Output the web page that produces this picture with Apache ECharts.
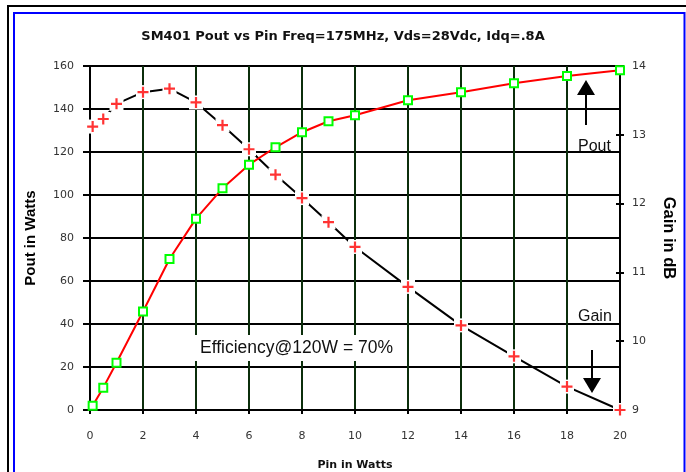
<!DOCTYPE html>
<html>
<head>
<meta charset="utf-8">
<script src="https://cdn.jsdelivr.net/npm/echarts@6/dist/echarts.min.js"></script>
<style>
html,body{margin:0;padding:0;background:#fff;}
#c{width:686px;height:472px;}
</style>
</head>
<body>
<div id="c"></div>
<script>
// ---- data ----
var pinWatts = [0.1, 0.5, 1, 2, 3, 4, 5, 6, 7, 8, 9, 10, 12, 14, 16, 18, 20];
var poutWatts = [2, 10.4, 22, 45.8, 70.2, 89, 103.1, 114.1, 122.2, 129.2, 134.3, 137.1, 144.1, 147.8, 152, 155.4, 158];
var gainDb = [13.12, 13.23, 13.45, 13.62, 13.67, 13.47, 13.14, 12.79, 12.42, 12.08, 11.73, 11.37, 10.79, 10.23, 9.78, 9.34, 9.0];
var titleText = 'SM401 Pout vs Pin Freq=175MHz, Vds=28Vdc, Idq=.8A';
var xName = 'Pin in Watts';
var yLeftName = 'Pout in Watts';
var yRightName = 'Gain in dB';
var noteEff = 'Efficiency@120W = 70%';
var notePout = 'Pout';
var noteGain = 'Gain';

function pairs(xs, ys) { return xs.map(function (x, i) { return [x, ys[i]]; }); }

var FONT = 'Arial, "Liberation Sans", sans-serif';
var WIDE = '"DejaVu Sans", Arial, sans-serif';
var plusPath = 'path://M4,0 H6 V4 H10 V6 H6 V10 H4 V6 H0 V4 H4 Z';
var gridBox = { left: 90, right: 66, top: 66, bottom: 62, outerBoundsMode: 'none' };

var chart = echarts.init(document.getElementById('c'), null, { renderer: 'canvas' });
chart.setOption({
  animation: false,
  backgroundColor: '#ffffff',
  title: {
    text: titleText,
    left: 'center',
    top: 25,
    textStyle: { fontFamily: WIDE, fontSize: 13, fontWeight: 'bold', color: '#111' }
  },
  grid: [
    Object.assign({}, gridBox),
    Object.assign({}, gridBox)
  ],
  xAxis: [
    {
      type: 'value', min: 0, max: 20, interval: 2, gridIndex: 0,
      name: xName, nameLocation: 'middle', nameGap: 50,
      nameTextStyle: { fontFamily: WIDE, fontSize: 11, fontWeight: 'bold', color: '#111' },
      axisLine: { show: true, onZero: false, lineStyle: { color: '#000', width: 2 } },
      axisTick: { show: true, length: 4, lineStyle: { color: '#000', width: 2 } },
      axisLabel: { margin: 21, fontFamily: WIDE, fontSize: 11, color: '#333' },
      splitLine: { show: true, showMinLine: false, showMaxLine: false, lineStyle: { color: '#0b2e0b', width: 2 } }
    },
    {
      type: 'value', min: 0, max: 20, gridIndex: 1, show: false,
      axisLine: { onZero: false }
    }
  ],
  yAxis: [
    {
      type: 'value', min: 0, max: 160, interval: 20, position: 'left', gridIndex: 0,
      name: yLeftName, nameLocation: 'middle', nameGap: 52, nameRotate: 90,
      nameTextStyle: { fontFamily: FONT, fontSize: 15, fontWeight: 'bold', color: '#000' },
      axisLine: { show: true, onZero: false, lineStyle: { color: '#000', width: 2 } },
      axisTick: { show: true, length: 7, lineStyle: { color: '#000', width: 2 } },
      axisLabel: { margin: 16, fontFamily: WIDE, fontSize: 11, color: '#333' },
      splitLine: { show: true, showMinLine: false, lineStyle: { color: '#000', width: 2 } }
    },
    {
      type: 'value', min: 9, max: 14, interval: 1, position: 'right', gridIndex: 0,
      name: yRightName, nameLocation: 'middle', nameGap: 40, nameRotate: -90,
      nameTextStyle: { fontFamily: FONT, fontSize: 16.5, fontWeight: 'bold', color: '#000' },
      axisLine: { show: true, onZero: false, lineStyle: { color: '#000', width: 2 } },
      axisTick: { show: true, length: 4, lineStyle: { color: '#000', width: 2 } },
      axisLabel: { margin: 12, fontFamily: WIDE, fontSize: 11, color: '#333' },
      splitLine: { show: false }
    },
    {
      type: 'value', min: 9, max: 14, interval: 1, position: 'right', gridIndex: 1,
      axisLine: { show: false, onZero: false },
      axisTick: { show: true, inside: true, length: 4, lineStyle: { color: '#000', width: 2 } },
      axisLabel: { show: false },
      splitLine: { show: false }
    }
  ],
  series: [
    {
      name: 'GainLine', type: 'line', xAxisIndex: 0, yAxisIndex: 1,
      data: pairs(pinWatts, gainDb),
      lineStyle: { color: '#000', width: 2 },
      symbol: 'rect', symbolSize: 14, showSymbol: true,
      itemStyle: { color: '#fff', borderWidth: 0 },
      z: 3
    },
    {
      name: 'Gain', type: 'scatter', xAxisIndex: 0, yAxisIndex: 1,
      data: pairs(pinWatts, gainDb),
      symbol: plusPath, symbolSize: 11,
      itemStyle: { color: '#ff0000' },
      z: 4
    },
    {
      name: 'Pout', type: 'line', xAxisIndex: 0, yAxisIndex: 0,
      data: pairs(pinWatts, poutWatts),
      lineStyle: { color: '#ff0000', width: 2 },
      symbol: 'rect', symbolSize: 8, showSymbol: true,
      itemStyle: { color: '#fff', borderColor: '#00ff00', borderWidth: 2 },
      z: 5
    }
  ],
  graphic: [
    { type: 'rect', shape: { x: 8, y: 6, width: 720, height: 520 }, style: { fill: 'none', stroke: '#000', lineWidth: 2 }, z: 100 },
    { type: 'rect', shape: { x: 14, y: 13, width: 670.5, height: 520 }, style: { fill: 'none', stroke: '#0000ff', lineWidth: 2 }, z: 100 },
    // efficiency note
    { type: 'rect', shape: { x: 194, y: 335, width: 203, height: 26 }, style: { fill: '#fff' }, z: 50 },
    { type: 'text', x: 200, y: 348, style: { text: noteEff, font: '17.5px ' + FONT, fill: '#111', textVerticalAlign: 'middle' }, z: 51 },
    // Pout note with up arrow
    { type: 'text', x: 578, y: 147, style: { text: notePout, font: '16px ' + FONT, fill: '#111', textVerticalAlign: 'middle' }, z: 51 },
    { type: 'line', shape: { x1: 586, y1: 125, x2: 586, y2: 94 }, style: { stroke: '#000', lineWidth: 2 }, z: 51 },
    { type: 'polygon', shape: { points: [[577, 95], [595, 95], [586, 80]] }, style: { fill: '#000' }, z: 51 },
    // Gain note with down arrow
    { type: 'text', x: 578, y: 317, style: { text: noteGain, font: '16px ' + FONT, fill: '#111', textVerticalAlign: 'middle' }, z: 51 },
    { type: 'line', shape: { x1: 592, y1: 350, x2: 592, y2: 379 }, style: { stroke: '#000', lineWidth: 2 }, z: 51 },
    { type: 'polygon', shape: { points: [[583, 378], [601, 378], [592, 393]] }, style: { fill: '#000' }, z: 51 }
  ]
});
</script>
</body>
</html>
